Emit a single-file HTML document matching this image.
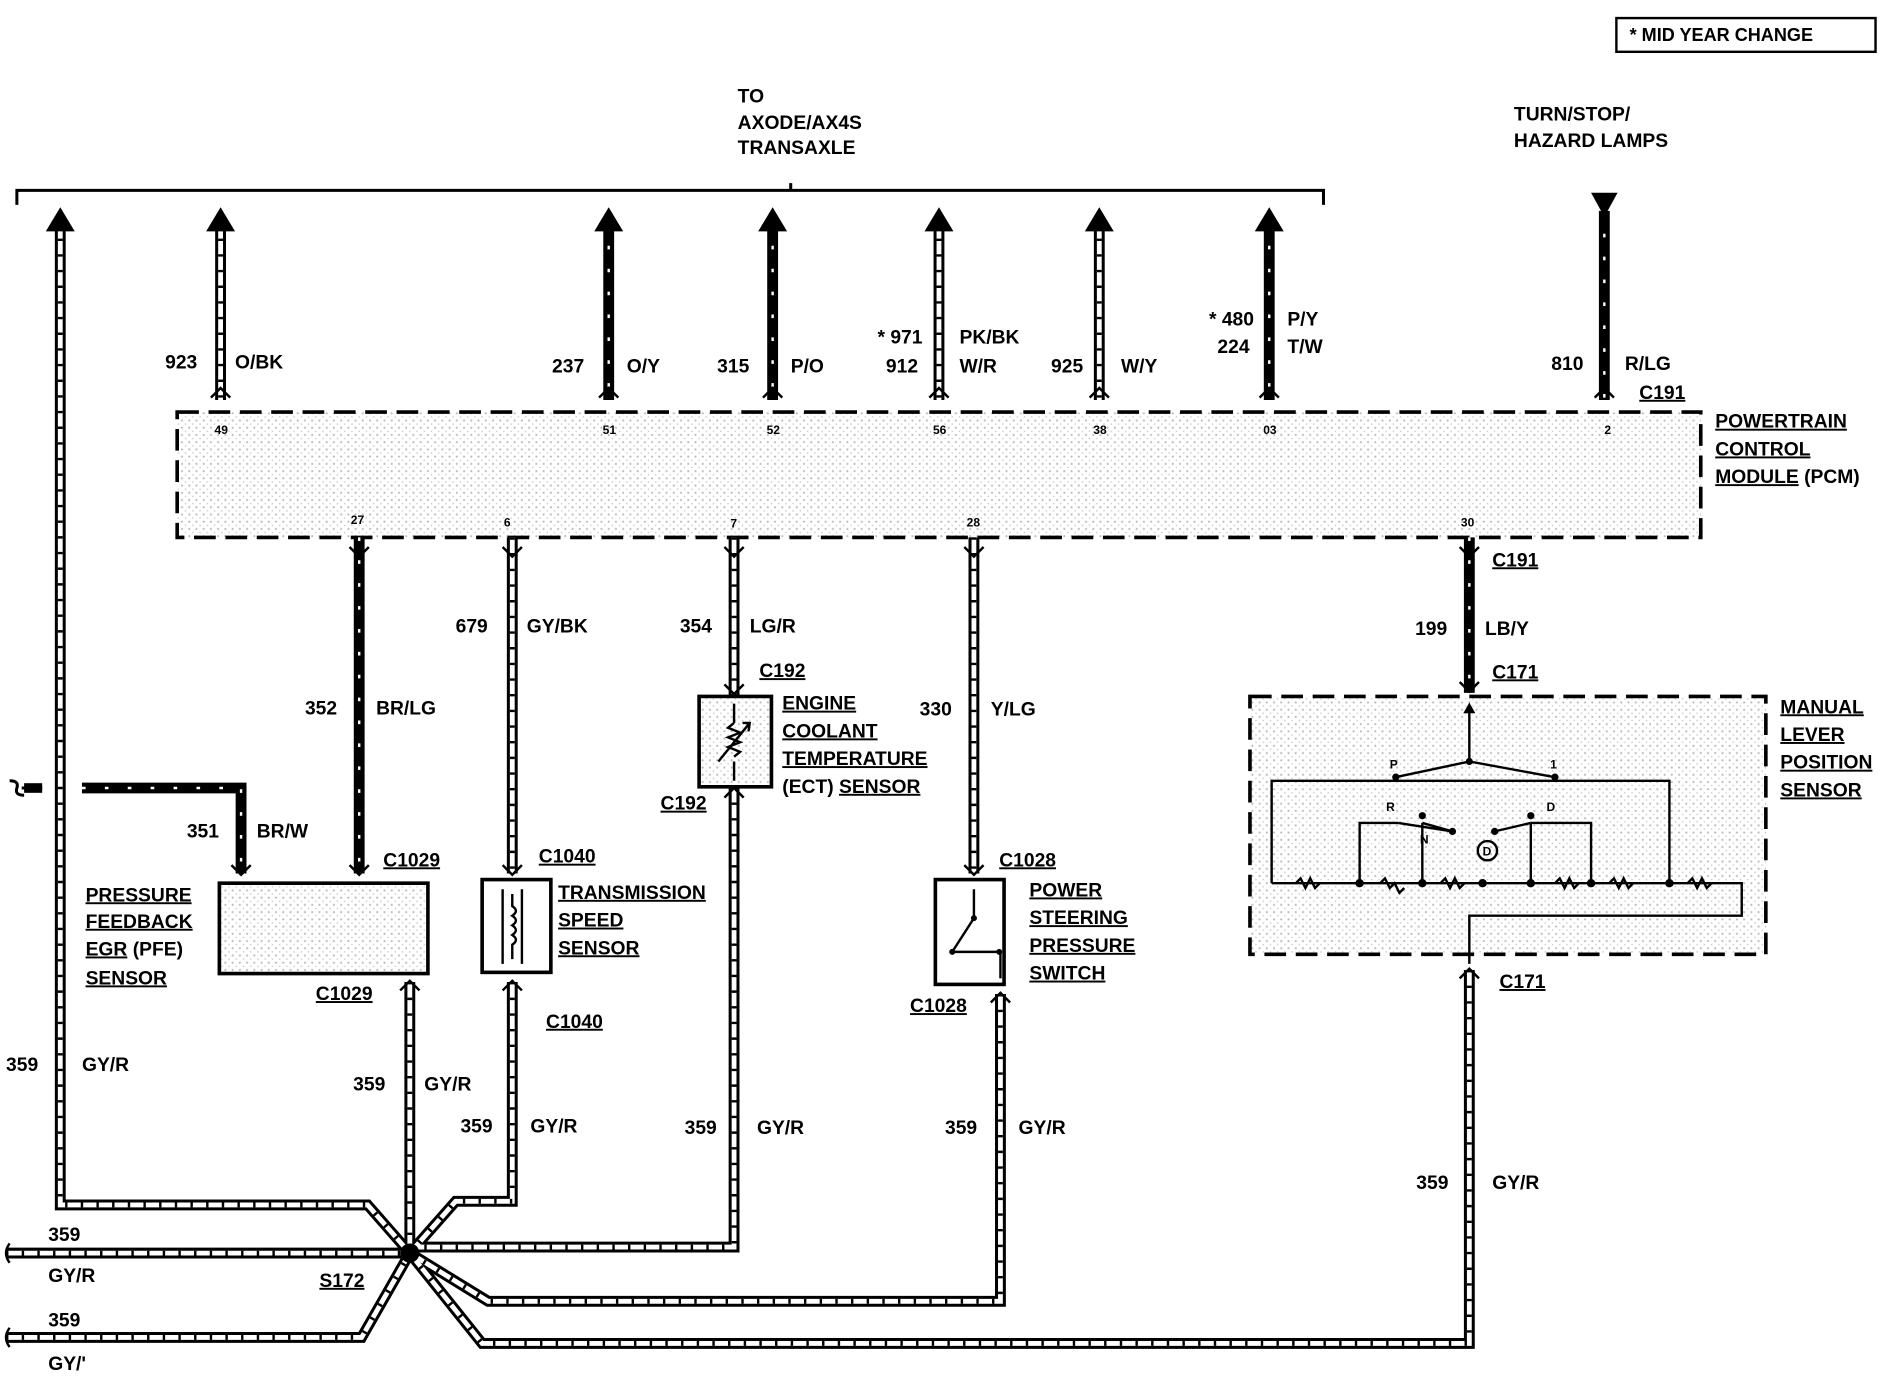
<!DOCTYPE html>
<html><head><meta charset="utf-8"><style>
html,body{margin:0;padding:0;background:#fff;}
svg{display:block;}
text{font-family:"Liberation Sans",Arial,sans-serif;font-weight:bold;font-size:16px;fill:#000;}
.u{text-decoration:underline;}
.p{font-size:10px;}
.lk{fill:none;stroke:#000;stroke-width:9;}
.lw{fill:none;stroke:#fff;stroke-width:4;}
.ls{fill:none;stroke:#000;stroke-width:4;stroke-dasharray:2 11;}
.dw{fill:none;stroke:#fff;stroke-width:2;stroke-dasharray:3 16;}
</style></head><body>
<svg width="1890" height="1376" viewBox="0 0 1568 1142" preserveAspectRatio="none" xmlns="http://www.w3.org/2000/svg">
<defs>
<pattern id="st" width="6" height="6" patternUnits="userSpaceOnUse"><rect width="6" height="6" fill="#fff"/><circle cx="1" cy="1" r="0.9" fill="#bbb"/><circle cx="4" cy="4" r="0.7" fill="#ccc"/></pattern>
<path id="L1" d="M50 185 V1000 H305 L340 1040"/>
<path id="L2" d="M183 185 V332"/>
<path id="L3" d="M779 185 V332"/>
<path id="L4" d="M912 185 V332"/>
<path id="L5" d="M425 446 V725"/>
<path id="L6" d="M609 446 V578"/>
<path id="L7" d="M808 446 V725"/>
<path id="L8" d="M340 815 V1040"/>
<path id="L9" d="M425 815 V997 H378 L340 1040"/>
<path id="L10" d="M609 653 V1035 H340"/>
<path id="L11" d="M830 825 V1080 H405 L340 1040"/>
<path id="L12" d="M1219 805 V1115 H400 L340 1040"/>
<path id="L13" d="M5 1040 H340"/>
<path id="L14" d="M5 1110 H300 L340 1040"/>
<path id="D1" d="M505 185 V332"/>
<path id="D2" d="M641 185 V332"/>
<path id="D3" d="M1053 185 V332"/>
<path id="D4" d="M1331 175 V332"/>
<path id="D5" d="M298 446 V725"/>
<path id="D6" d="M1219 446 V575"/>
<path id="D7" d="M68 654 H200 V725"/>
</defs>

<!-- mid year box -->
<rect x="1341" y="15" width="215" height="28" fill="none" stroke="#000" stroke-width="2"/>
<text x="1352" y="34" style="font-size:15px">* MID YEAR CHANGE</text>

<!-- top bracket -->
<path d="M14 170 V158 H1098 V170 M656 158 V152" fill="none" stroke="#000" stroke-width="2.5"/>
<text x="612" y="85">TO</text><text x="612" y="107">AXODE/AX4S</text><text x="612" y="128">TRANSAXLE</text>
<text x="1256" y="100">TURN/STOP/</text><text x="1256" y="122">HAZARD LAMPS</text>

<!-- PCM box -->
<rect x="147" y="342" width="1264" height="104" fill="url(#st)" stroke="#000" stroke-width="3" stroke-dasharray="18 8"/>
<text x="1423" y="355" class="u">POWERTRAIN</text><text x="1423" y="378" class="u">CONTROL</text><text x="1423" y="401"><tspan class="u">MODULE</tspan> (PCM)</text>

<!-- wires -->
<g>
<use href="#L1" class="lk"/><use href="#L2" class="lk"/><use href="#L3" class="lk"/><use href="#L4" class="lk"/><use href="#L5" class="lk"/><use href="#L6" class="lk"/><use href="#L7" class="lk"/><use href="#L8" class="lk"/><use href="#L9" class="lk"/><use href="#L10" class="lk"/><use href="#L11" class="lk"/><use href="#L12" class="lk"/><use href="#L13" class="lk"/><use href="#L14" class="lk"/>
<use href="#L1" class="lw"/><use href="#L2" class="lw"/><use href="#L3" class="lw"/><use href="#L4" class="lw"/><use href="#L5" class="lw"/><use href="#L6" class="lw"/><use href="#L7" class="lw"/><use href="#L8" class="lw"/><use href="#L9" class="lw"/><use href="#L10" class="lw"/><use href="#L11" class="lw"/><use href="#L12" class="lw"/><use href="#L13" class="lw"/><use href="#L14" class="lw"/>
<use href="#L1" class="ls"/><use href="#L2" class="ls"/><use href="#L3" class="ls"/><use href="#L4" class="ls"/><use href="#L5" class="ls"/><use href="#L6" class="ls"/><use href="#L7" class="ls"/><use href="#L8" class="ls"/><use href="#L9" class="ls"/><use href="#L10" class="ls"/><use href="#L11" class="ls"/><use href="#L12" class="ls"/><use href="#L13" class="ls"/><use href="#L14" class="ls"/>
<use href="#D1" class="lk"/><use href="#D2" class="lk"/><use href="#D3" class="lk"/><use href="#D4" class="lk"/><use href="#D5" class="lk"/><use href="#D6" class="lk"/><use href="#D7" class="lk"/>
<use href="#D1" class="dw"/><use href="#D2" class="dw"/><use href="#D3" class="dw"/><use href="#D4" class="dw"/><use href="#D5" class="dw"/><use href="#D6" class="dw"/><use href="#D7" class="dw"/>
</g>

<!-- arrowheads up -->
<g fill="#000">
<polygon points="50,172 38,192 62,192"/>
<polygon points="183,172 171,192 195,192"/>
<polygon points="505,172 493,192 517,192"/>
<polygon points="641,172 629,192 653,192"/>
<polygon points="779,172 767,192 791,192"/>
<polygon points="912,172 900,192 924,192"/>
<polygon points="1053,172 1041,192 1065,192"/>
<polygon points="1320,160 1342,160 1331,180"/>
<circle cx="340" cy="1040" r="8"/>
</g>
<!-- connector chevrons -->
<g fill="none" stroke="#000" stroke-width="2">
<path d="M175 330 L183 322 L191 330 M497 330 L505 322 L513 330 M633 330 L641 322 L649 330 M771 330 L779 322 L787 330 M904 330 L912 322 L920 330 M1045 330 L1053 322 L1061 330 M1323 330 L1331 322 L1339 330"/>
<path d="M290 454 L298 462 L306 454 M417 454 L425 462 L433 454 M601 454 L609 462 L617 454 M800 454 L808 462 L816 454 M1211 454 L1219 462 L1227 454"/>
<path d="M192 718 L200 726 L208 718 M290 718 L298 726 L306 718 M417 718 L425 726 L433 718 M601 568 L609 576 L617 568 M800 718 L808 726 L816 718 M1211 566 L1219 574 L1227 566"/>
<path d="M332 822 L340 814 L348 822 M417 822 L425 814 L433 822 M601 662 L609 654 L617 662 M822 832 L830 824 L838 832 M1211 812 L1219 804 L1227 812"/>
</g>

<!-- pin numbers -->
<g class="p">
<text x="178" y="360" class="p">49</text><text x="500" y="360" class="p">51</text><text x="636" y="360" class="p">52</text><text x="774" y="360" class="p">56</text><text x="907" y="360" class="p">38</text><text x="1048" y="360" class="p">03</text><text x="1331" y="360" class="p">2</text>
<text x="291" y="435" class="p">27</text><text x="418" y="437" class="p">6</text><text x="606" y="438" class="p">7</text><text x="802" y="437" class="p">28</text><text x="1212" y="437" class="p">30</text>
</g>

<!-- top wire labels -->
<text x="137" y="306">923</text><text x="195" y="306">O/BK</text>
<text x="458" y="309">237</text><text x="520" y="309">O/Y</text>
<text x="595" y="309">315</text><text x="656" y="309">P/O</text>
<text x="728" y="285">* 971</text><text x="796" y="285">PK/BK</text>
<text x="735" y="309">912</text><text x="796" y="309">W/R</text>
<text x="872" y="309">925</text><text x="930" y="309">W/Y</text>
<text x="1003" y="270">* 480</text><text x="1068" y="270">P/Y</text>
<text x="1010" y="293">224</text><text x="1068" y="293">T/W</text>
<text x="1287" y="307">810</text><text x="1348" y="307">R/LG</text>
<text x="1360" y="331" class="u">C191</text>

<!-- lower labels -->
<text x="378" y="525">679</text><text x="437" y="525">GY/BK</text>
<text x="564" y="525">354</text><text x="622" y="525">LG/R</text>
<text x="253" y="593">352</text><text x="312" y="593">BR/LG</text>
<text x="763" y="594">330</text><text x="822" y="594">Y/LG</text>
<text x="1174" y="527">199</text><text x="1232" y="527">LB/Y</text>
<text x="1238" y="470" class="u">C191</text><text x="1238" y="563" class="u">C171</text>
<text x="630" y="562" class="u">C192</text><text x="548" y="672" class="u">C192</text>
<text x="155" y="695">351</text><text x="213" y="695">BR/W</text>
<text x="318" y="719" class="u">C1029</text><text x="262" y="830" class="u">C1029</text>
<text x="447" y="716" class="u">C1040</text><text x="453" y="853" class="u">C1040</text>
<text x="829" y="719" class="u">C1028</text><text x="755" y="840" class="u">C1028</text>
<text x="1244" y="820" class="u">C171</text>

<!-- ECT -->
<rect x="580" y="578" width="60" height="75" fill="url(#st)" stroke="#000" stroke-width="3"/>
<path d="M609 584 V600 M609 632 V648 M596 632 L622 600 M616 600 L622 600 L621 607" fill="none" stroke="#000" stroke-width="2"/>
<path d="M609 600 l-5 4 l10 4 l-10 4 l10 4 l-10 4 l10 4 l-5 4" fill="none" stroke="#000" stroke-width="2"/>
<text x="649" y="589" class="u">ENGINE</text><text x="649" y="612" class="u">COOLANT</text><text x="649" y="635" class="u">TEMPERATURE</text><text x="649" y="658">(ECT) <tspan class="u">SENSOR</tspan></text>

<!-- PFE -->
<path d="M8 648 q8 0 6 6 q-2 6 6 6 M18 654 H35" fill="none" stroke="#000" stroke-width="2.5"/>
<rect x="20" y="650" width="15" height="8" fill="#000"/>
<rect x="182" y="733" width="173" height="75" fill="url(#st)" stroke="#000" stroke-width="3"/>
<text x="71" y="748" class="u">PRESSURE</text><text x="71" y="770" class="u">FEEDBACK</text><text x="71" y="793"><tspan class="u">EGR</tspan> (PFE)</text><text x="71" y="817" class="u">SENSOR</text>

<!-- TSS -->
<rect x="400" y="730" width="57" height="77" fill="#fff" stroke="#000" stroke-width="3"/>
<path d="M417 738 V800 M433 738 V800 M425 742 V752 q6 4 0 8 q6 4 0 8 q6 4 0 8 q6 4 0 8 V796" fill="none" stroke="#000" stroke-width="2"/>
<text x="463" y="746" class="u">TRANSMISSION</text><text x="463" y="769" class="u">SPEED</text><text x="463" y="792" class="u">SENSOR</text>

<!-- PS switch -->
<rect x="776" y="730" width="57" height="87" fill="#fff" stroke="#000" stroke-width="3"/>
<path d="M808 738 V762 L790 790 M792 790 H830 V806 M830 790 V812" fill="none" stroke="#000" stroke-width="2" stroke-dasharray="0"/>
<circle cx="808" cy="762" r="2.5"/><circle cx="790" cy="790" r="2.5"/><circle cx="829" cy="790" r="2.5"/>
<text x="854" y="744" class="u">POWER</text><text x="854" y="767" class="u">STEERING</text><text x="854" y="790" class="u">PRESSURE</text><text x="854" y="813" class="u">SWITCH</text>

<!-- MLPS -->
<rect x="1037" y="578" width="428" height="214" fill="url(#st)" stroke="#000" stroke-width="3" stroke-dasharray="18 8"/>
<g fill="none" stroke="#000" stroke-width="2">
<path d="M1219 585 V632 L1158 645 M1219 632 L1290 645"/>
<path d="M1055 733 V648 H1385 V733"/>
<path d="M1055 733 H1445 V760 H1219 V800"/>
<path d="M1128 733 V683 H1160 M1180 733 V683 M1270 683 H1320 V733 M1270 733 V683 M1280 683 H1320"/>
<path d="M1160 683 L1205 690 M1180 683 L1205 690 M1240 690 L1270 683"/>
<path d="M1075 733 l4 -4 l4 8 l4 -8 l4 8 l4 -4 M1145 733 l4 -4 l4 8 l4 -4 l4 8 l4 -4 M1195 733 l4 -4 l4 8 l4 -8 l4 8 l4 -4 M1290 733 l4 -4 l4 8 l4 -8 l4 8 l4 -4 M1335 733 l4 -4 l4 8 l4 -8 l4 8 l4 -4 M1400 733 l4 -4 l4 8 l4 -8 l4 8 l4 -4"/>
<circle cx="1234" cy="706" r="8"/>
</g>
<g fill="#000">
<circle cx="1219" cy="632" r="3"/><circle cx="1158" cy="645" r="3"/><circle cx="1290" cy="645" r="3"/><circle cx="1128" cy="733" r="3.5"/><circle cx="1180" cy="733" r="3.5"/><circle cx="1270" cy="733" r="3.5"/><circle cx="1320" cy="733" r="3.5"/><circle cx="1385" cy="733" r="3.5"/><circle cx="1230" cy="733" r="3.5"/>
<circle cx="1180" cy="677" r="3"/><circle cx="1205" cy="690" r="3"/><circle cx="1240" cy="690" r="3"/><circle cx="1270" cy="677" r="3"/>
<polygon points="1219,583 1214,592 1224,592"/>
</g>
<text x="1153" y="638" class="p">P</text><text x="1286" y="638" class="p">1</text><text x="1150" y="673" class="p">R</text><text x="1283" y="673" class="p">D</text><text x="1178" y="700" class="p">N</text><text x="1230" y="710" class="p">D</text>
<text x="1477" y="592" class="u">MANUAL</text><text x="1477" y="615" class="u">LEVER</text><text x="1477" y="638" class="u">POSITION</text><text x="1477" y="661" class="u">SENSOR</text>

<!-- 359 labels -->
<text x="5" y="889">359</text><text x="68" y="889">GY/R</text>
<text x="293" y="905">359</text><text x="352" y="905">GY/R</text>
<text x="382" y="940">359</text><text x="440" y="940">GY/R</text>
<text x="568" y="941">359</text><text x="628" y="941">GY/R</text>
<text x="784" y="941">359</text><text x="845" y="941">GY/R</text>
<text x="1175" y="987">359</text><text x="1238" y="987">GY/R</text>
<text x="40" y="1030">359</text><text x="40" y="1064">GY/R</text>
<text x="40" y="1101">359</text><text x="40" y="1137">GY/'</text>
<text x="265" y="1068" class="u">S172</text>
<path d="M8 1032 q-6 8 0 16 M8 1102 q-6 8 0 16" fill="none" stroke="#000" stroke-width="2"/>
</svg>
</body></html>
